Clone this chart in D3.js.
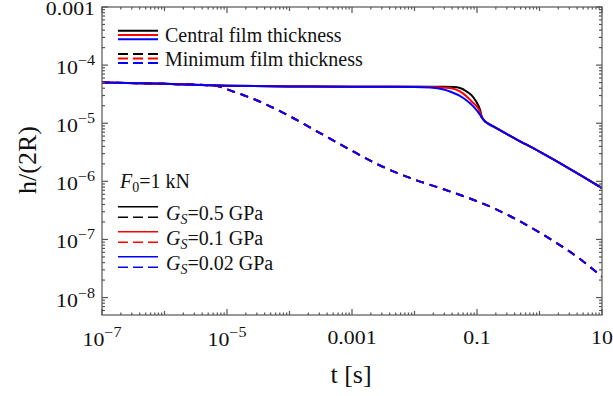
<!DOCTYPE html>
<html>
<head>
<meta charset="utf-8">
<script src="https://cdn.jsdelivr.net/npm/d3@7"></script>
<style>
  body { margin: 0; background: #fff; }
  svg { display: block; font-family: "Liberation Serif", "Times New Roman", serif; }
</style>
</head>
<body>
<svg id="chart" width="613" height="396"></svg>
<script>
// central film thickness, F0 = 1 kN, three shear moduli
const tBlack = [1e-7, 1e-6, 1e-5, 1e-4, 1e-3, 0.01, 0.03, 0.0418, 0.0533, 0.0684, 0.0822, 0.0929, 0.105, 0.1117, 0.119, 0.13, 0.14, 0.182, 0.4, 1, 3, 10];
const hBlack = [5.01e-5, 4.76e-5, 4.42e-5, 4.29e-5, 4.25e-5, 4.25e-5, 4.24e-5, 4.20e-5, 4.04e-5, 3.52e-5, 3.01e-5, 2.54e-5, 2.02e-5, 1.71e-5, 1.29e-5, 1.12e-5, 1.035e-5, 8.81e-6, 5.50e-6, 3.24e-6, 1.66e-6, 7.67e-7];

const tRed = [1e-7, 1e-6, 1e-5, 1e-4, 1e-3, 0.01, 0.0177, 0.037, 0.0533, 0.0684, 0.0822, 0.0989, 0.1076, 0.119, 0.13, 0.14, 0.182, 0.4, 1, 3, 10];
const hRed = [5.01e-5, 4.76e-5, 4.42e-5, 4.29e-5, 4.25e-5, 4.24e-5, 4.21e-5, 4.04e-5, 3.52e-5, 2.89e-5, 2.37e-5, 1.945e-5, 1.71e-5, 1.29e-5, 1.12e-5, 1.035e-5, 8.81e-6, 5.50e-6, 3.24e-6, 1.66e-6, 7.67e-7];

const tBlue = [1e-7, 1e-6, 1e-5, 1e-4, 1e-3, 0.005, 0.0177, 0.027, 0.037, 0.0604, 0.0873, 0.1117, 0.119, 0.13, 0.14, 0.182, 0.4, 1, 3, 10];
const hBlue = [5.01e-5, 4.76e-5, 4.42e-5, 4.29e-5, 4.25e-5, 4.23e-5, 4.12e-5, 3.88e-5, 3.52e-5, 2.72e-5, 1.945e-5, 1.40e-5, 1.26e-5, 1.12e-5, 1.035e-5, 8.81e-6, 5.50e-6, 3.24e-6, 1.66e-6, 7.67e-7];

// minimum film thickness (the three curves coincide)
const tMin = [1e-7, 1e-6, 6e-6, 1.25e-5, 3.77e-5, 1.14e-4, 3.08e-4, 9.3e-4, 2.5e-3, 1.14e-2, 2.56e-2, 0.194, 1.15, 5.02, 10];
const hMin = [5.01e-5, 4.76e-5, 4.47e-5, 3.52e-5, 2.23e-5, 1.23e-5, 6.78e-6, 3.50e-6, 1.99e-6, 1.02e-6, 7.67e-7, 3.37e-7, 1.205e-7, 4.18e-8, 2.28e-8];

const xTickVals = [1e-7, 1e-5, 1e-3, 0.1, 10];
const xTickLabels = [['10', '−7'], ['10', '−5'], ['0.001'], ['0.1'], ['10']];
const yTickVals = [1e-3, 1e-4, 1e-5, 1e-6, 1e-7, 1e-8];
const yTickLabels = [['0.001'], ['10', '−4'], ['10', '−5'], ['10', '−6'], ['10', '−7'], ['10', '−8']];

const gsLabels = ['0.5 GPa', '0.1 GPa', '0.02 GPa'];
const colors = ['#000', '#f00', '#00f'];

const svg = d3.select('#chart');
const x = d3.scaleLog().domain([1e-7, 10]).range([102, 602]);
const y = d3.scaleLog().domain([Math.pow(10, -8.3), 1e-3]).range([315, 7]);
const [x0, x1] = x.range();
const [y0, y1] = y.range();

svg.append('defs').append('clipPath').attr('id', 'clip')
  .append('rect').attr('x', x0).attr('y', y1).attr('width', x1 - x0).attr('height', y0 - y1);

const zip = (ts, hs) => ts.map((t, i) => [t, hs[i]]);
const line = d3.line().x(d => x(d[0])).y(d => y(d[1])).curve(d3.curveMonotoneX);

const plot = svg.append('g').attr('clip-path', 'url(#clip)');
const minSeries = [zip(tMin, hMin), zip(tMin, hMin), zip(tMin, hMin)];
const cenSeries = [zip(tBlack, hBlack), zip(tRed, hRed), zip(tBlue, hBlue)];

minSeries.forEach((s, i) => {
  plot.append('path').attr('d', line(s)).attr('fill', 'none')
    .attr('stroke', colors[i]).attr('stroke-width', 2).attr('stroke-dasharray', '8,6');
});
cenSeries.forEach((s, i) => {
  plot.append('path').attr('d', line(s)).attr('fill', 'none')
    .attr('stroke', colors[i]).attr('stroke-width', 2);
});

// frame + ticks (inward, mirrored)
const frame = svg.append('g').attr('stroke', '#555').attr('stroke-width', 1.2);
frame.append('rect').attr('x', x0).attr('y', y1).attr('width', x1 - x0).attr('height', y0 - y1).attr('fill', 'none');

const xTicks = [];
for (let e = -7; e <= 1; e++) {
  for (let m = 1; m <= 9; m++) {
    const v = m * Math.pow(10, e);
    if (v > 10.0001) continue;
    const labeled = m === 1 && (e % 2 !== 0);
    xTicks.push({ v, len: m === 1 ? (labeled ? 6 : 4) : 2.5 });
  }
}
const yTicks = [];
for (let e = -9; e <= -3; e++) {
  for (let m = 1; m <= 9; m++) {
    const v = m * Math.pow(10, e);
    if (v < y.domain()[0] || v > 1.0001e-3) continue;
    yTicks.push({ v, len: m === 1 ? 6 : 3 });
  }
}
xTicks.forEach(d => {
  const px = x(d.v);
  frame.append('line').attr('x1', px).attr('x2', px).attr('y1', y0).attr('y2', y0 - d.len);
  frame.append('line').attr('x1', px).attr('x2', px).attr('y1', y1).attr('y2', y1 + d.len);
});
yTicks.forEach(d => {
  const py = y(d.v);
  frame.append('line').attr('x1', x0).attr('x2', x0 + d.len).attr('y1', py).attr('y2', py);
  frame.append('line').attr('x1', x1).attr('x2', x1 - d.len).attr('y1', py).attr('y2', py);
});

// tick labels (reference glyphs are a bit wide, so stretch horizontally)
function writeLabel(px, py, anchor, parts) {
  const t = svg.append('g').attr('transform', `translate(${px},${py}) scale(1.15,1)`)
    .append('text').attr('text-anchor', anchor).attr('font-size', 19).attr('fill', '#111');
  t.append('tspan').text(parts[0]);
  if (parts.length > 1) {
    t.append('tspan').attr('dy', -9).attr('font-size', 14).text(parts[1]);
  }
}
xTickVals.forEach((v, i) => {
  const parts = xTickLabels[i];
  writeLabel(x(v), parts.length > 1 ? 346 : 343.5, 'middle', parts);
});
yTickVals.forEach((v, i) => {
  const parts = yTickLabels[i];
  writeLabel(95, y(v) + (parts.length > 1 ? 9 : 8), 'end', parts);
});

// axis titles
svg.append('text').attr('x', 351).attr('y', 383).attr('text-anchor', 'middle')
  .attr('font-size', 26).attr('fill', '#111').text('t [s]');
svg.append('text').attr('transform', 'translate(36,160) rotate(-90)').attr('text-anchor', 'middle')
  .attr('font-size', 26).attr('fill', '#111').text('h/(2R)');

// top legend
const lg = svg.append('g');
[30.7, 35, 39.3].forEach((ly, i) => {
  lg.append('line').attr('x1', 118).attr('x2', 158).attr('y1', ly).attr('y2', ly)
    .attr('stroke', colors[i]).attr('stroke-width', 2);
});
[54, 58.5, 63].forEach((ly, i) => {
  lg.append('line').attr('x1', 118).attr('x2', 158).attr('y1', ly).attr('y2', ly)
    .attr('stroke', colors[i]).attr('stroke-width', 2).attr('stroke-dasharray', '10,5');
});
lg.append('text').attr('x', 165).attr('y', 41.7).attr('font-size', 20).attr('fill', '#111').text('Central film thickness');
lg.append('text').attr('x', 165).attr('y', 65.7).attr('font-size', 20).attr('fill', '#111').text('Minimum film thickness');

// parameter legend
const pl = svg.append('g');
const f0 = pl.append('text').attr('x', 120).attr('y', 187.5).attr('font-size', 20).attr('fill', '#111');
f0.append('tspan').attr('font-style', 'italic').text('F');
f0.append('tspan').attr('font-size', 14).attr('dy', 4).text('0');
f0.append('tspan').attr('dy', -4).text('=1 kN');

gsLabels.forEach((lab, i) => {
  const base = 206.7 + i * 25;
  pl.append('line').attr('x1', 118).attr('x2', 158).attr('y1', base).attr('y2', base)
    .attr('stroke', colors[i]).attr('stroke-width', 1.6);
  pl.append('line').attr('x1', 118).attr('x2', 158).attr('y1', base + 10.6).attr('y2', base + 10.6)
    .attr('stroke', colors[i]).attr('stroke-width', 1.6).attr('stroke-dasharray', '10,5');
  const t = pl.append('text').attr('x', 166).attr('y', base + 13).attr('font-size', 20).attr('fill', '#111');
  t.append('tspan').attr('font-style', 'italic').text('G');
  t.append('tspan').attr('font-style', 'italic').attr('font-size', 14).attr('dy', 4).text('S');
  t.append('tspan').attr('dy', -4).text('=' + lab);
});
</script>
</body>
</html>
